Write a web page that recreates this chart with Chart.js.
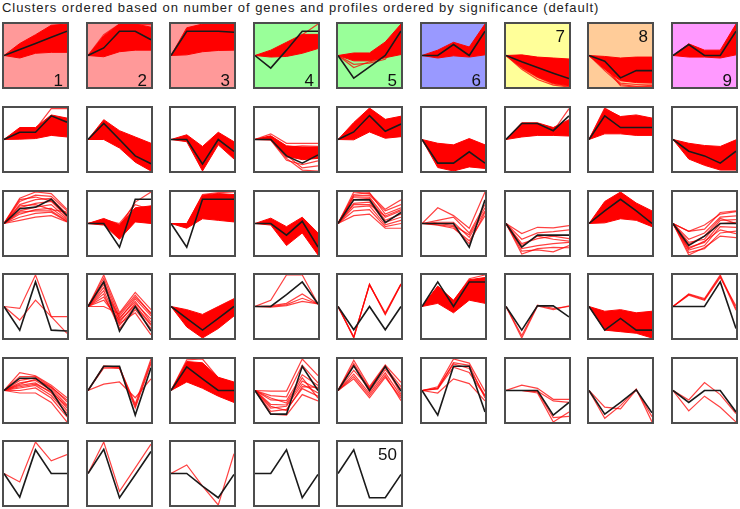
<!DOCTYPE html>
<html><head><meta charset="utf-8">
<script src="https://cdn.jsdelivr.net/npm/chart.js@4.4.1/dist/chart.umd.min.js"></script>
<style>
html,body{margin:0;padding:0;background:#fff;}
body{width:740px;height:509px;position:relative;overflow:hidden;font-family:"Liberation Sans",Arial,sans-serif;}
#title{position:absolute;left:2px;top:0px;font-size:13px;letter-spacing:0.95px;color:#222;white-space:nowrap;line-height:15px;}
.panel{position:absolute;width:63px;height:63px;border:2px solid #4d4d4d;background:#fff;}
.panel canvas{position:absolute;left:0;top:0;}
.num{position:absolute;right:4px;font-size:17px;line-height:17px;color:#111;}
.num.bottom{bottom:-2px;}
.num.top{top:4px;}
</style></head><body>
<div id="title">Clusters ordered based on number of genes and profiles ordered by significance (default)</div>
<script>
// ---- data (expression relative to the first time point) ----
const timePoints = ['0', '1', '2', '3', '4'];
const clusterNumbers = Array.from({length: 50}, (_, i) => i + 1);
const numberedClusters = [1, 2, 3, 4, 5, 6, 7, 8, 9, 50];
const numbersAtTop = [7, 8, 50];

const modelProfiles = [
 [0,0.95,1.9,2.9,3.85],[0,1.2,3.85,3.85,2.5],[0,3.85,3.85,3.85,3.7],[0,-2,0.85,3.85,3.85],[0,-3.6,-1.8,0,3.9],
 [0,0,1.75,0,3.85],[0,-1,-1.9,-2.8,-3.65],[0,-0.9,-3.55,-2.4,-2.4],[0,1.75,0,0,3.85],[0,1.15,1.15,3.75,2.75],
 [0,2.55,0,-2.6,-3.85],[0,0,-3.9,0,-1.9],[0,0,-2.6,-3.75,-2.45],[0,1.2,3.8,1.3,2.45],[0,-3.75,-3.75,-1.95,-3.75],
 [0,2.55,2.55,1.4,3.75],[0,3.75,1.9,1.9,1.9],[0,-1.85,-2.6,-3.75,-1.85],[0,2.35,2.6,3.85,1.25],[0,0,-3.75,3.85,3.85],
 [0,-3.75,3.85,3.85,3.85],[0,0,-1.85,0.35,-3.75],[0,3.75,3.75,0.15,1.75],[0,0,0,-3.75,3.75],[0,-3.75,-1.85,-1.85,-1.85],
 [0,2,3.85,2,0],[0,-3.5,-2,0,0],[0,-3.75,3.9,-3.75,-3.9],[0,3.9,-3.9,0,-3.9],[0,-1.9,-3.75,-1.9,0],
 [0,0,1.9,3.9,0.4],[0,-3.7,0,-3.7,0],[0,3.9,0,3.9,3.9],[0,-3.75,0.1,0.1,-1.65],[0,-3.75,-1.9,-3.75,-3.75],
 [0,0,0,3.9,-3.5],[0,1.95,1.95,0,-4],[0,3.85,3.85,-3.9,3.6],[0,3.75,1.85,0,0],[0,-3.75,-3.75,3.85,0],
 [0,3.9,0,3.8,-0.1],[0,-3.9,3.85,3.85,-3.4],[0,0,0,-3.9,-1.9],[0,-3.75,-1.9,0.1,-3.55],[0,-1.9,0,0,-3.4],
 [0,-3.75,3.75,0,0],[0,3.85,-3.85,-0.2,3.5],[0,0,-2,-3.85,-0.15],[0,0,3.75,-3.85,-0.15],[0,3.75,-3.85,-3.85,-0.15]
];

// upper / lower envelopes of densely packed gene profiles
const bandUpper = {
 1:[0,1.9,3.3,4.8,5], 2:[0,3.1,5,5,4.5], 3:[0,4.4,5,5,5], 4:[0,0.85,2.1,3.35,3.35], 5:[0,0.4,0.4,2.15,5],
 6:[0,0.85,2.1,1.35,5], 7:[0,0.1,-0.25,-0.4,-0.55], 8:[0,-0.15,-0.4,-0.25,-0.25], 9:[0,1.85,0.85,0.85,5],
 10:[0,1.9,1.9,3.9,3.4], 11:[0,3.15,1.4,0.4,-0.6], 12:[0,0.75,-1.1,1.15,-0.35], 13:[0,0.6,-1,-1.2,-1.2],
 14:[0,2.7,5,3.2,3.7], 15:[0,-0.6,-0.85,0.15,-0.85], 16:[0,2.65,2.65,1.9,3.15], 17:[0,4.9,3.65,3.9,3.4],
 18:[0,-0.6,-0.95,-1.1,-0.05], 20:[0,0.8,-0.2,2.5,2.8], 21:[0,0,4.5,4.75,4.6], 22:[0,0.85,-0.5,1,-1.5],
 26:[0,3.5,5,3.25,2], 30:[0,-0.5,-1.25,0,1.25], 33:[0,3.25,1,4.25,4.6], 35:[0,-0.75,-0.5,-1,-0.75],
 39:[0,4.6,4.4,2.1,1.35]
};
const bandLower = {
 1:[0,-0.4,0.35,0.5,0.5], 2:[0,-0.2,0.6,0.85,0.85], 3:[0,0.1,0.6,0.8,0.85], 4:[0,-0.25,-0.15,0.35,1.1],
 5:[0,-0.85,-0.85,-0.35,0.15], 6:[0,-0.4,-0.05,-0.25,0.1], 7:[0,-1.9,-3.4,-4.4,-4.8], 8:[0,-2.2,-4,-4.3,-4.3],
 9:[0,-0.25,-0.25,-0.4,0.1], 10:[0,0.05,0.15,0.65,0.4], 11:[0,0,-1.35,-3.6,-5], 12:[0,-0.35,-5,-0.85,-3.1],
 13:[0,0,-2.6,-3.2,-3], 14:[0,-0.05,1.2,0.2,0.45], 15:[0,-4.45,-5,-4.35,-4.6], 16:[0,0.4,0.65,0.65,0.55],
 17:[0,0.9,0.9,0.65,0.65], 18:[0,-3.1,-4.1,-4.85,-4.85], 20:[0,-0.25,-2.5,0.25,0], 21:[0,-0.75,0.75,0.5,0.25],
 22:[0,-0.25,-3.5,-1.5,-5], 26:[0,0.1,0.75,0.5,-0.5], 30:[0,-3.25,-5,-3.5,-1.5], 33:[0,0.5,-1,1,0.5],
 35:[0,-3.75,-4,-4.25,-5], 39:[0,1.35,0.35,-0.9,-1.9]
};

// individual gene profiles
const geneProfiles = {
 2:[[0,3.3,5,4.9,4.9]],
 4:[[0,0.5,1.8,3.3,5]],
 5:[[0,-1.4,-1.2,-0.6,2.8],[0,-1.9,-1.0,-0.3,2.0]],
 7:[[0,-2.2,-3.8,-4.7,-5],[0,-2,-3.5,-4.5,-4.9]],
 8:[[0,-2.4,-4.6,-4.9,-4.75],[0,-2,-4.4,-4.6,-4.5],[0,-1.8,-4.8,-5,-4.9]],
 10:[[0,1.65,1.65,4.9,4.9]],
 13:[[0,0.9,-0.6,-0.6,-0.6],[0,0.5,-1.2,-1.0,-1.1],[0,0.3,-1.8,-1.6,-1.5],[0,0.2,-2.2,-2.2,-2.0],[0,0,-2.8,-3.0,-2.7],
     [0,-0.1,-3.3,-4.0,-3.4],[0,0.1,-2.5,-4.5,-4.2],[0,0,-3.0,-4.85,-5],[0,0.4,-1.5,-2.6,-3.0]],
 16:[[0,2.4,2.5,1.3,4.9]],
 17:[[0,5,3.5,3.6,3.2]],
 19:[[0,4,5,4.75,2.25],[0,3.5,4.5,4.3,2.0],[0,3,3.8,4.0,1.5],[0,2.5,3.2,3.5,1.0],[0,2,2.6,3.0,0.8],[0,1.5,2.2,2.4,0.6],
     [0,1.0,1.6,1.8,0.3],[0,0.5,1.0,1.25,0.25],[0,2.8,3.0,2.2,1.8],[0,3.8,4.2,3.6,1.2],[0,1.8,2.0,2.0,0.4]],
 20:[[0,0.5,-0.5,3.4,5],[0,0.6,0,3,2.2],[0,0.2,-1.2,2,1.5],[0,-0.1,-1.8,1.2,0.8],[0,0.3,-0.8,0.8,0.4]],
 21:[[0,-0.2,4.6,4.9,5]],
 23:[[0,5,4.75,2.25,3.75],[0,4.6,4.9,1.5,2.5],[0,4.2,4.2,1.0,2.0],[0,3.8,4.0,0.5,1.5],[0,3.2,3.4,0.2,1.0],
     [0,2.6,2.8,-0.2,0.5],[0,2.0,2.2,-0.5,0],[0,1.25,1.5,-0.75,-0.75],[0,4.4,4.5,2.0,3.0],[0,3.0,3.0,1.2,2.2]],
 24:[[0,2.5,1.25,-0.75,5],[0,0.5,1.0,-1.5,3.0],[0,-0.25,-0.75,-2.75,1.25],[0,0.2,0.2,-2.2,2.0],[0,0,-0.3,-1.8,2.5],[0,-0.2,-0.5,-3.2,1.8]],
 25:[[0,-1.6,-0.6,-0.7,-0.35],[0,-2.5,-1.5,-1.3,-1.0],[0,-3.2,-2.4,-2.0,-2.4],[0,-4.0,-3.5,-3.2,-3.0],[0,-4.85,-4.0,-3.8,-3.85],
     [0,-4.4,-4.2,-4.5,-3.5],[0,-3.5,-2.0,-2.5,-2.8]],
 27:[[0,-1.25,-0.9,1.75,2],[0,-1.25,-0.25,1.5,1.9],[0,-2.5,-1.5,1.0,1.2],[0,-3.0,-2.5,0.5,0.6],[0,-3.8,-3.0,0,0.2],
     [0,-4.2,-3.5,-0.5,-0.6],[0,-4.6,-4.0,-1.5,-1.2],[0,-5,-3.8,-2,-2.25],[0,-4.0,-2.8,-1.0,-1.6],[0,-3.3,-2.0,0.8,0.0]],
 28:[[0,-0.3,5,-1.6,-1.6],[0,-2.15,1,-1.6,-4.25]],
 29:[[0,5,-1,2.25,-0.5],[0,4.5,-1.5,1.5,-1],[0,4,-2,1.2,-1.5],[0,3.5,-2.5,0.5,-2],[0,3,-1.8,0.8,-2.5],
     [0,2.5,-3,0,-3],[0,2,-3.5,-0.5,-3.5],[0,1.5,-2.7,-1,-4.5],[0,0,-1.2,1.8,-1.2],[0,1,-2.2,0.2,-2.8]],
 31:[[0,1,5,5,0.4],[0,0.1,0.5,2,0.4],[0,0,0.3,1.3,0.4],[0,-0.1,0.15,0.8,0.4]],
 32:[[0,-5,3.55,-1.2,3.55],[0,-4.8,3.4,-1.0,3.6],[0,-4.9,3.5,-1.3,3.5]],
 33:[[0,3.0,0.8,4.4,5]],
 34:[[0,-5,0.1,-0.5,0.1],[0,-4.6,0.2,-0.3,0.0]],
 36:[[0,2,1.25,5,-0.3],[0,1.9,1.1,4.8,-0.6],[0,1.8,1.0,4.6,0.1]],
 37:[[0,2.85,2.35,0.85,-1.15],[0,2.2,2.2,0.6,-1.8],[0,1.6,2.0,0.3,-2.3],[0,1.2,1.6,0,-2.8],[0,0.8,1.2,-0.4,-3.2],
     [0,0.4,0.8,-0.8,-3.6],[0,0,0.4,-1.2,-4.2],[0,-0.4,-0.4,-1.9,-5],[0,1.0,1.8,0.5,-1.5],[0,0.6,1.0,-0.2,-2.5]],
 38:[[0,3.8,3.6,-2.15,5],[0,1,1.35,-1.15,1.85],[0,3.6,3.5,-2.8,4.3],[0,3.9,3.7,-2.5,4.6]],
 39:[[0,4.85,5,2.0,1.2]],
 40:[[0,-0.1,-0.1,5,2.35],[0,-0.8,-1.0,4.0,1.2],[0,-1.5,-1.6,2.5,0.8],[0,-2.2,-2.3,1.5,0.2],[0,-2.8,-2.5,1.0,-0.4],
     [0,-3.3,-3.0,0.3,-0.9],[0,-3.75,-3.9,-0.65,-1.65],[0,-1.2,-2.0,2.0,-1.2],[0,-2.5,-3.2,0.6,0.5]],
 41:[[0,4.8,0.6,4.05,1.3],[0,4.3,0.3,3.7,0.6],[0,4.0,-0.2,3.3,0.2],[0,3.2,0.4,3.9,-0.6],[0,2.6,-0.5,2.8,-0.9],
     [0,1.85,-1.15,2.1,-1.2],[0,2.2,-0.8,2.4,-1.6]],
 42:[[0,0.6,5,4.35,-0.15],[0,0.4,4.2,3.5,-0.8],[0,-0.4,1.85,1.1,-1.65],[0,0.25,3.7,2.85,-0.9],[0,0.3,4.4,4.0,-1.2]],
 43:[[0,0.85,0.35,-1.4,-1.4],[0,0,-0.4,-5,-3.4],[0,0,-0.1,-1.65,-1.9],[0,0,-0.2,-4.3,-4.1]],
 44:[[0,-4.4,-2.4,0.25,-5],[0,-2.65,-2.9,0.1,-4.15]],
 45:[[0,-3.25,-0.9,-2.65,-5],[0,-1.5,1.25,-0.65,-3.65]],
 46:[[0,-1.35,5,2,3]],
 47:[[0,5,-2.85,0.9,4.65]],
 48:[[0,1.35,-2,-5,3.15]]
};

// ---- styling ----
const panelBackgrounds = {1:'#ff9999',2:'#ff9999',3:'#ff9999',4:'#99ff99',5:'#99ff99',6:'#9999ff',7:'#ffff99',8:'#ffcc99',9:'#ff99ff'};
const RED_LINE = 'rgba(255,0,0,0.75)';
const RED_FILL = '#ff0000';
const BLACK = '#1a1a1a';

clusterNumbers.forEach((cl, i) => {
  const row = Math.floor(i / 9), col = i % 9;
  const div = document.createElement('div');
  div.className = 'panel';
  div.style.left = Math.round(2 + col * 83.6) + 'px';
  div.style.top = Math.round(22.3 + row * 83.6) + 'px';
  if (panelBackgrounds[cl]) div.style.background = panelBackgrounds[cl];
  const cv = document.createElement('canvas');
  cv.width = 63; cv.height = 63;
  div.appendChild(cv);
  if (numberedClusters.includes(cl)) {
    const s = document.createElement('span');
    s.className = 'num ' + (numbersAtTop.includes(cl) ? 'top' : 'bottom');
    s.textContent = String(cl);
    div.appendChild(s);
  }
  document.body.appendChild(div);

  const datasets = [];
  datasets.push({data: modelProfiles[i], borderColor: BLACK, borderWidth: 1.6, fill: false, order: 0});
  (geneProfiles[cl] || []).forEach(p => {
    datasets.push({data: p, borderColor: RED_LINE, borderWidth: 1.2, fill: false, order: 1});
  });
  if (bandUpper[cl]) {
    datasets.push({data: bandUpper[cl], borderColor: RED_FILL, backgroundColor: RED_FILL, borderWidth: 1, fill: '+1', order: 2});
    datasets.push({data: bandLower[cl], borderColor: RED_FILL, borderWidth: 1, fill: false, order: 2});
  }

  new Chart(cv, {
    type: 'line',
    data: {labels: timePoints, datasets},
    options: {
      responsive: false, animation: false, devicePixelRatio: 1, events: [],
      layout: {padding: 0},
      plugins: {legend: {display: false}, tooltip: {enabled: false}, title: {display: false}},
      elements: {point: {radius: 0}, line: {tension: 0}},
      scales: {
        x: {display: false, offset: false},
        y: {display: false, min: -5, max: 5}
      }
    }
  });
});
</script>
</body></html>
